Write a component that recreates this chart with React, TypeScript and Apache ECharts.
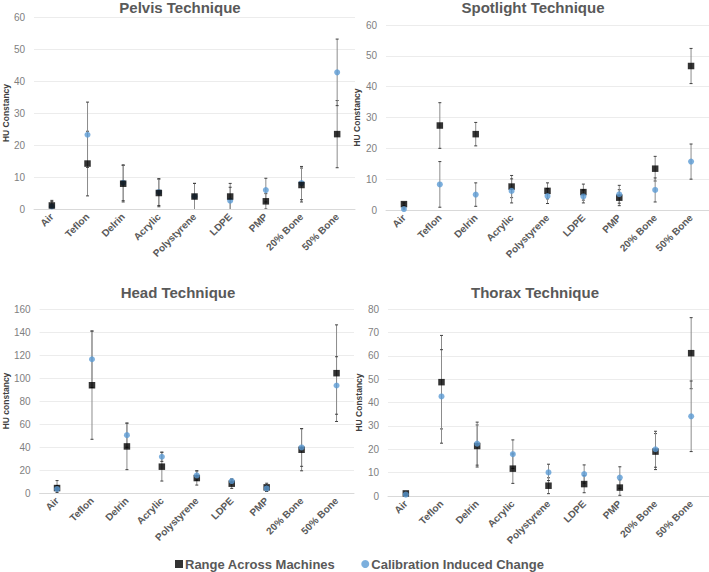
import React, { useEffect, useRef } from 'react';
import * as echarts from 'echarts';

const categories = ['Air', 'Teflon', 'Delrin', 'Acrylic', 'Polystyrene', 'LDPE', 'PMP', '20% Bone', '50% Bone'];
const seriesNames = ['Range Across Machines', 'Calibration Induced Change'];

// Pelvis Technique
const pelvisRange = [1.1, 14.2, 7.9, 5.0, 3.9, 3.9, 2.4, 7.5, 23.4];
const pelvisRangeErr = [1.6, 10.1, 5.7, 4.3, 4.1, 4.1, 2.4, 5.3, 10.5];
const pelvisCalib = [0.8, 23.2, 8.2, 5.3, 3.9, 2.6, 5.9, 8.1, 42.7];
const pelvisCalibErr = [1.5, 10.2, 5.6, 4.2, 4.1, 4.2, 3.7, 5.2, 10.4];

// Spotlight Technique
const spotRange = [1.9, 27.4, 24.6, 7.6, 6.2, 5.8, 4.0, 13.4, 46.7];
const spotRangeErr = [0.4, 7.4, 3.8, 3.6, 2.6, 2.6, 2.6, 4.0, 5.7];
const spotCalib = [0.3, 8.3, 5.0, 6.2, 4.5, 4.4, 5.1, 6.5, 15.7];
const spotCalibErr = [0.3, 7.4, 3.8, 3.9, 2.4, 2.1, 2.9, 3.9, 5.7];

// Head Technique
const headRange = [4.3, 93.7, 40.5, 22.9, 13.0, 8.1, 4.9, 37.6, 104.2];
const headRangeErr = [6.5, 47.0, 20.2, 12.5, 6.1, 4.1, 3.6, 18.3, 42.0];
const headCalib = [3.5, 116.3, 50.3, 31.5, 15.3, 10.4, 4.0, 39.6, 93.5];
const headCalibErr = [3.0, 24.6, 10.5, 4.0, 4.1, 1.5, 2.5, 16.4, 25.0];

// Thorax Technique
const thoraxRange = [1.1, 48.7, 21.4, 11.7, 4.4, 5.1, 3.6, 19.0, 61.1];
const thoraxRangeErr = [0.5, 20.0, 9.0, 6.3, 3.4, 3.7, 3.3, 7.7, 15.2];
const thoraxCalib = [0.6, 42.6, 22.4, 17.9, 10.1, 9.4, 7.9, 20.0, 34.1];
const thoraxCalibErr = [0.4, 20.0, 9.2, 6.1, 3.5, 3.9, 4.6, 7.7, 15.1];

const FONT = "'Liberation Sans', Arial, sans-serif";

const panels = [
  {
    title: 'Pelvis Technique', yName: 'HU Constancy', max: 60, interval: 10,
    grid: { left: 25, top: 17, width: 330, height: 192 }, titlePos: [180, 0], nameGap: 18,
    range: pelvisRange, rangeErr: pelvisRangeErr, calib: pelvisCalib, calibErr: pelvisCalibErr, blueOnTop: false,
  },
  {
    title: 'Spotlight Technique', yName: 'HU Constancy', max: 60, interval: 10,
    grid: { left: 386, top: 25, width: 323, height: 185 }, titlePos: [533, 0], nameGap: 22,
    range: spotRange, rangeErr: spotRangeErr, calib: spotCalib, calibErr: spotCalibErr, blueOnTop: true,
  },
  {
    title: 'Head Technique', yName: 'HU constancy', max: 160, interval: 20,
    grid: { left: 35, top: 309, width: 319, height: 184 }, titlePos: [178, 285], nameGap: 24,
    range: headRange, rangeErr: headRangeErr, calib: headCalib, calibErr: headCalibErr, blueOnTop: true,
  },
  {
    title: 'Thorax Technique', yName: 'HU Constancy', max: 80, interval: 10,
    grid: { left: 388, top: 309, width: 321, height: 187 }, titlePos: [535, 285], nameGap: 22,
    range: thoraxRange, rangeErr: thoraxRangeErr, calib: thoraxCalib, calibErr: thoraxCalibErr, blueOnTop: true,
  },
];

const renderErr = (params: any, api: any) => {
  const x = api.value(0);
  const lo = api.value(1);
  const hi = api.value(2);
  const p1 = api.coord([x, lo]);
  const p2 = api.coord([x, hi]);
  const c = 1.5;
  return {
    type: 'group',
    children: [
      { type: 'line', shape: { x1: p1[0], y1: p1[1], x2: p2[0], y2: p2[1] }, style: { stroke: '#8c8c8c', lineWidth: 1 } },
      { type: 'line', shape: { x1: p1[0] - c, y1: p1[1], x2: p1[0] + c, y2: p1[1] }, style: { stroke: '#404040', lineWidth: 1 } },
      { type: 'line', shape: { x1: p2[0] - c, y1: p2[1], x2: p2[0] + c, y2: p2[1] }, style: { stroke: '#404040', lineWidth: 1 } },
    ],
  };
};

export default function App() {
  const ref = useRef<HTMLDivElement>(null);
  useEffect(() => {
    document.body.style.margin = '0';
    if (!ref.current) return;
    const chart = echarts.init(ref.current, null, { renderer: 'svg' });
    const series: any[] = [];
    panels.forEach((p, i) => {
      const errData = (vals: number[], errs: number[]) => vals.map((v, k) => [k, v - errs[k], v + errs[k]]);
      series.push({
        type: 'custom', name: 'errRange' + i, xAxisIndex: i, yAxisIndex: i, clip: true,
        renderItem: renderErr, encode: { x: 0, y: [1, 2] }, data: errData(p.range, p.rangeErr), z: 1,
      });
      series.push({
        type: 'custom', name: 'errCalib' + i, xAxisIndex: i, yAxisIndex: i, clip: true,
        renderItem: renderErr, encode: { x: 0, y: [1, 2] }, data: errData(p.calib, p.calibErr), z: 1,
      });
      const black = {
        type: 'scatter', name: seriesNames[0], xAxisIndex: i, yAxisIndex: i, symbol: 'rect', symbolSize: 6.5,
        itemStyle: { color: '#000000' }, data: p.range, z: p.blueOnTop ? 2 : 3,
      };
      const blue = {
        type: 'scatter', name: seriesNames[1], xAxisIndex: i, yAxisIndex: i, symbol: 'circle', symbolSize: 6,
        itemStyle: { color: '#5b9bd5' }, data: p.calib, z: p.blueOnTop ? 3 : 2,
      };
      series.push(black, blue);
    });
    chart.setOption({
      animation: false,
      backgroundColor: '#ffffff',
      textStyle: { fontFamily: FONT },
      title: panels.map((p) => ({
        text: p.title, left: p.titlePos[0], top: p.titlePos[1], textAlign: 'center', padding: 0,
        textStyle: { fontFamily: FONT, fontSize: 15, fontWeight: 'bold', color: '#595959' },
      })),
      legend: {
        left: 175, top: 557, padding: 0, itemWidth: 8, itemHeight: 8, itemGap: 26,
        data: [
          { name: seriesNames[0], icon: 'rect' },
          { name: seriesNames[1], icon: 'circle' },
        ],
        textStyle: { fontFamily: FONT, fontSize: 13, lineHeight: 14, fontWeight: 'bold', color: '#595959', padding: [0, 0, 0, -3] },
      },
      grid: panels.map((p) => ({ ...p.grid, containLabel: false })),
      xAxis: panels.map((p, i) => ({
        type: 'category', gridIndex: i, data: categories,
        axisLine: { lineStyle: { color: '#d9d9d9' } }, axisTick: { show: false },
        axisLabel: { rotate: 45, interval: 0, margin: 6, fontSize: 10, fontWeight: 'bold', color: '#595959', fontFamily: FONT },
      })),
      yAxis: panels.map((p, i) => ({
        type: 'value', gridIndex: i, min: 0, max: p.max, interval: p.interval,
        name: p.yName, nameLocation: 'middle', nameGap: p.nameGap, nameRotate: 90,
        nameTextStyle: { fontFamily: FONT, fontSize: 8.5, fontWeight: 'bold', color: '#404040' },
        axisLine: { show: false }, axisTick: { show: false },
        axisLabel: { fontSize: 10, color: '#7f7f7f', margin: 9, fontFamily: FONT },
        splitLine: { lineStyle: { color: '#ececec' } },
      })),
      series,
    });
    return () => chart.dispose();
  }, []);
  return <div ref={ref} style={{ width: 709, height: 572 }} />;
}
